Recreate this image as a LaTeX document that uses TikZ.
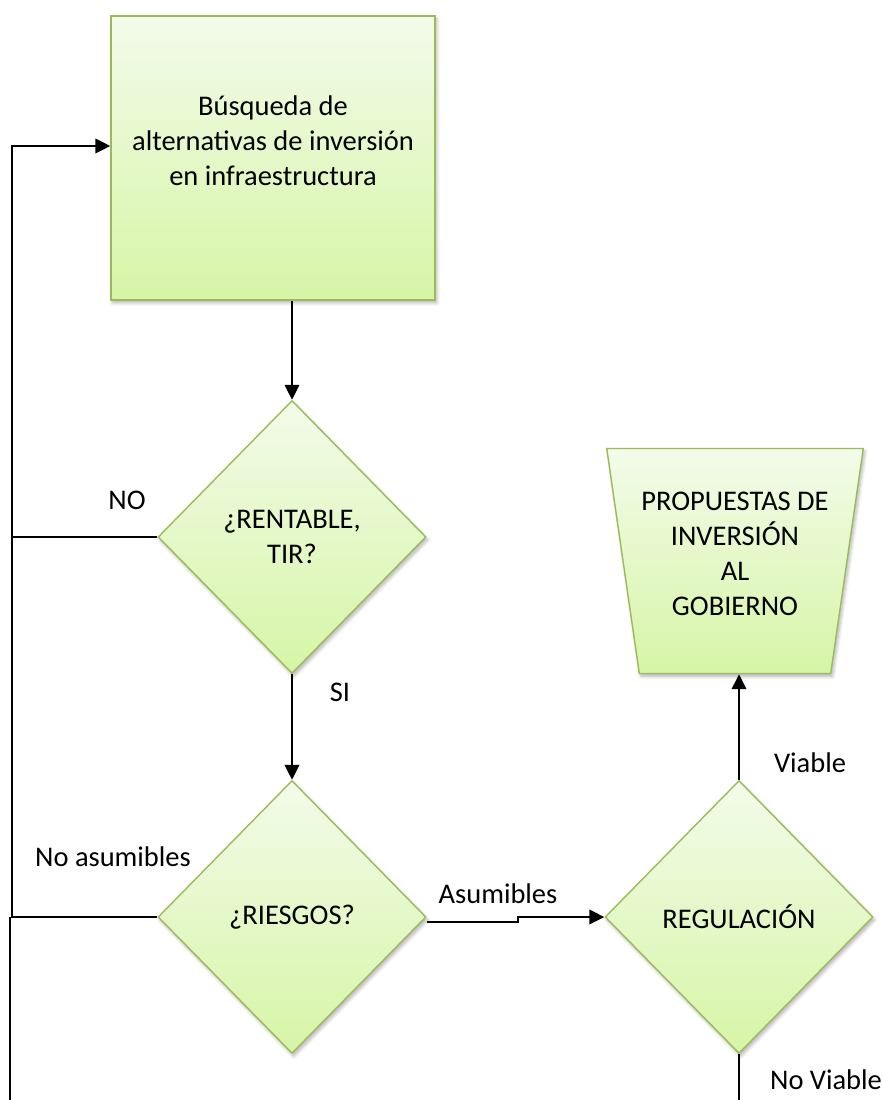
\documentclass[tikz,border=0pt]{standalone}
\usepackage{fontspec}
\setmainfont{Carlito}
\usetikzlibrary{arrows.meta,shapes.geometric,shadows.blur}
\definecolor{LeafLine}{HTML}{9BBB59}
\definecolor{LeafTop}{HTML}{F3FBEA}
\definecolor{LeafBottom}{HTML}{D6F5A6}
\definecolor{Ink}{HTML}{000000}

\begin{document}
\begin{tikzpicture}[
  x=0.2mm,y=-0.2mm,
  every node/.style={font=\fontsize{16.2}{20}\selectfont},
  leaf/.style={draw=LeafLine,line width=0.8pt,top color=LeafTop,bottom color=LeafBottom,
    blur shadow={shadow xshift=1pt,shadow yshift=-1.6pt,shadow opacity=30,shadow blur steps=6},
    align=center,inner sep=0pt},
  stepbox/.style={leaf,rectangle,minimum width=6.48cm,minimum height=5.68cm},
  decision/.style={leaf,diamond,minimum width=5.36cm,minimum height=5.46cm},
  outcome/.style={leaf,trapezium,trapezium stretches=true,shape border rotate=180,
    trapezium left angle=77,trapezium right angle=77,minimum width=5.14cm,minimum height=4.5cm},
  lbl/.style={inner sep=1pt},
  arr/.style={-{Triangle[length=3mm,width=2.9mm]},draw=Ink,line width=1.1pt},
  wire/.style={draw=Ink,line width=1.1pt}
]
\useasboundingbox (0,0) rectangle (881,1100);
\node[stepbox] (busqueda) at (273,158) {B\'usqueda de\\alternativas de inversi\'on\\en infraestructura\\\mbox{}};
\node[decision] (rentable) at (292,537) {\textquestiondown RENTABLE,\\TIR?};
\node[decision] (riesgos) at (292,917) {\textquestiondown RIESGOS?};
\node[decision] (regulacion) at (739,917) {REGULACI\'ON};
\node[outcome] (propuestas) at (735,561) {PROPUESTAS DE\\INVERSI\'ON\\AL\\GOBIERNO\\[-12pt]\mbox{}};
\coordinate (loopTop) at (12,146);
\coordinate (loopBot) at (10,1100);
% labels
\node[lbl] (lblNo) at (127,500) {NO};
\node[lbl] (lblSi) at (340,692) {SI};
\node[lbl] (lblNoAsum) at (113,857) {No asumibles};
\node[lbl] (lblAsum) at (498,894) {Asumibles};
\node[lbl] (lblViable) at (810,763) {Viable};
\node[lbl] (lblNoViable) at (826,1080) {No Viable};
% connectors
\draw[arr] (rentable.north |- busqueda.south) -- (rentable.north);
\draw[arr] (rentable.south) -- (riesgos.north);
\draw[wire] (rentable.west) -- (rentable.west -| loopTop);
\draw[arr] (riesgos.west) -| (loopTop) -- (loopTop -| busqueda.west);
\draw[wire] (loopBot |- riesgos.west) -- (loopBot);
\draw[arr] ([yshift=-3pt]riesgos.east) -- ++(91,0) |- (regulacion.west);
\draw[arr] (regulacion.north) -- (regulacion.north |- propuestas.south);
\draw[wire] (regulacion.south) -- (regulacion.south |- loopBot);
\end{tikzpicture}
\end{document}
